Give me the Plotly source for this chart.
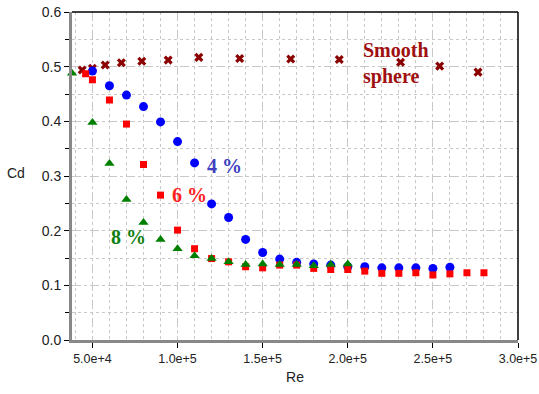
import plotly.graph_objects as go

re_4 = [50000, 60000, 70000, 80000, 90000, 100000, 110000, 120000, 130000, 140000, 150000,
        160000, 170000, 180000, 190000, 200000, 210000, 220000, 230000, 240000, 250000, 260000]
cd_4 = [0.492, 0.465, 0.448, 0.427, 0.399, 0.363, 0.324, 0.249, 0.224, 0.184, 0.160,
        0.148, 0.142, 0.139, 0.137, 0.134, 0.134, 0.132, 0.132, 0.132, 0.131, 0.133]

re_6 = [46000, 50000, 60000, 70000, 80000, 90000, 100000, 110000, 120000, 130000, 140000,
        150000, 160000, 170000, 180000, 190000, 200000, 210000, 220000, 230000, 240000,
        250000, 260000, 270000, 280000]
cd_6 = [0.487, 0.476, 0.439, 0.395, 0.321, 0.265, 0.201, 0.167, 0.149, 0.143, 0.134,
        0.132, 0.137, 0.137, 0.131, 0.129, 0.129, 0.126, 0.122, 0.122, 0.123,
        0.119, 0.121, 0.123, 0.123]

re_8 = [38000, 50000, 60000, 70000, 80000, 90000, 100000, 110000, 120000, 130000, 140000,
        150000, 160000, 170000, 180000, 190000, 200000]
cd_8 = [0.488, 0.398, 0.323, 0.257, 0.215, 0.184, 0.167, 0.154, 0.149, 0.143, 0.138,
        0.139, 0.138, 0.138, 0.136, 0.138, 0.139]

re_s = [44000, 50000, 57500, 67000, 79000, 94500, 112500, 136500, 166500, 195000,
        231000, 254000, 276500]
cd_s = [0.494, 0.497, 0.503, 0.507, 0.510, 0.512, 0.517, 0.515, 0.514, 0.513,
        0.508, 0.501, 0.490]

x_ticks = [50000, 100000, 150000, 200000, 250000, 300000]
x_labels = ["5.0e+4", "1.0e+5", "1.5e+5", "2.0e+5", "2.5e+5", "3.0e+5"]
y_ticks = [0.0, 0.1, 0.2, 0.3, 0.4, 0.5, 0.6]
y_labels = ["0.0", "0.1", "0.2", "0.3", "0.4", "0.5", "0.6"]

fig = go.Figure()
fig.add_trace(go.Scatter(x=re_s, y=cd_s, mode="markers", cliponaxis=False,
                         marker=dict(symbol="x", size=8, color="#8b0000", line=dict(width=0))))
fig.add_trace(go.Scatter(x=re_4, y=cd_4, mode="markers", cliponaxis=False,
                         marker=dict(symbol="circle", size=9, color="#0000ff", line=dict(width=0))))
fig.add_trace(go.Scatter(x=re_6, y=cd_6, mode="markers", cliponaxis=False,
                         marker=dict(symbol="square", size=7, color="#ff0000", line=dict(width=0))))
fig.add_trace(go.Scatter(x=re_8, y=cd_8, mode="markers", cliponaxis=False,
                         marker=dict(symbol="triangle-up", size=9, color="#008000", line=dict(width=0))))

serif = "Liberation Serif"
anns = [
    dict(x=0.298, y=0.318, text="4 %", color="#4040c0"),
    dict(x=0.220, y=0.266, text="6 %", color="#ff2020"),
    dict(x=0.083, y=0.188, text="8 %", color="#108010"),
]
for a in anns:
    fig.add_annotation(x=a["x"], y=a["y"], xref="paper", yref="y", text="<b>" + a["text"] + "</b>",
                       showarrow=False, xanchor="left", yanchor="middle",
                       font=dict(family=serif, size=20, color=a["color"]))
fig.add_annotation(x=0.648, y=0.505, xref="paper", yref="y", text="<b>Smooth<br>sphere</b>",
                   showarrow=False, xanchor="left", yanchor="middle", align="left",
                   font=dict(family=serif, size=20, color="#a01010"))

fig.add_annotation(x=-0.125, y=0.305, xref="paper", yref="y", text="Cd", showarrow=False,
                   xanchor="center", yanchor="middle", font=dict(size=14, color="#222"))

# top and right frame lines
fig.add_shape(type="line", xref="paper", yref="paper", x0=0, x1=1, y0=1, y1=1,
              line=dict(color="black", width=1.5))
fig.add_shape(type="line", xref="paper", yref="paper", x0=1, x1=1, y0=0, y1=1,
              line=dict(color="black", width=1.5))

grid_col = "#c8c8c8"
fig.update_xaxes(range=[38000, 300000], tickvals=x_ticks, ticktext=x_labels,
                 showgrid=True, gridcolor=grid_col, griddash="dash", gridwidth=1,
                 showline=True, linecolor="#888888", linewidth=3,
                 ticks="outside", ticklen=5, tickcolor="black",
                 zeroline=False, automargin=False,
                 minor=dict(dtick=10000, tick0=0, showgrid=True, gridcolor="#c8c8c8",
                            griddash="dot", gridwidth=1, ticks=""),
                 title=dict(text="Re", font=dict(size=14, color="#222"), standoff=8),
                 tickfont=dict(size=12.5, color="#222"))
fig.update_yaxes(range=[0, 0.6], tickvals=y_ticks, ticktext=y_labels,
                 showgrid=True, gridcolor=grid_col, griddash="dash", gridwidth=1,
                 showline=True, linecolor="#888888", linewidth=3,
                 ticks="outside", ticklen=5, tickcolor="black",
                 zeroline=False, automargin=False,
                 minor=dict(dtick=0.05, tick0=0, showgrid=True, gridcolor="#c8c8c8",
                            griddash="dot", gridwidth=1, ticks="outside", ticklen=4,
                            tickcolor="black"),
                 tickfont=dict(size=14, color="#222"))

fig.update_layout(width=539, height=394, margin=dict(l=72, r=21, t=12, b=54),
                  plot_bgcolor="white", paper_bgcolor="white", showlegend=False,
                  font=dict(family="Liberation Sans"))
fig.write_html("out.html")
